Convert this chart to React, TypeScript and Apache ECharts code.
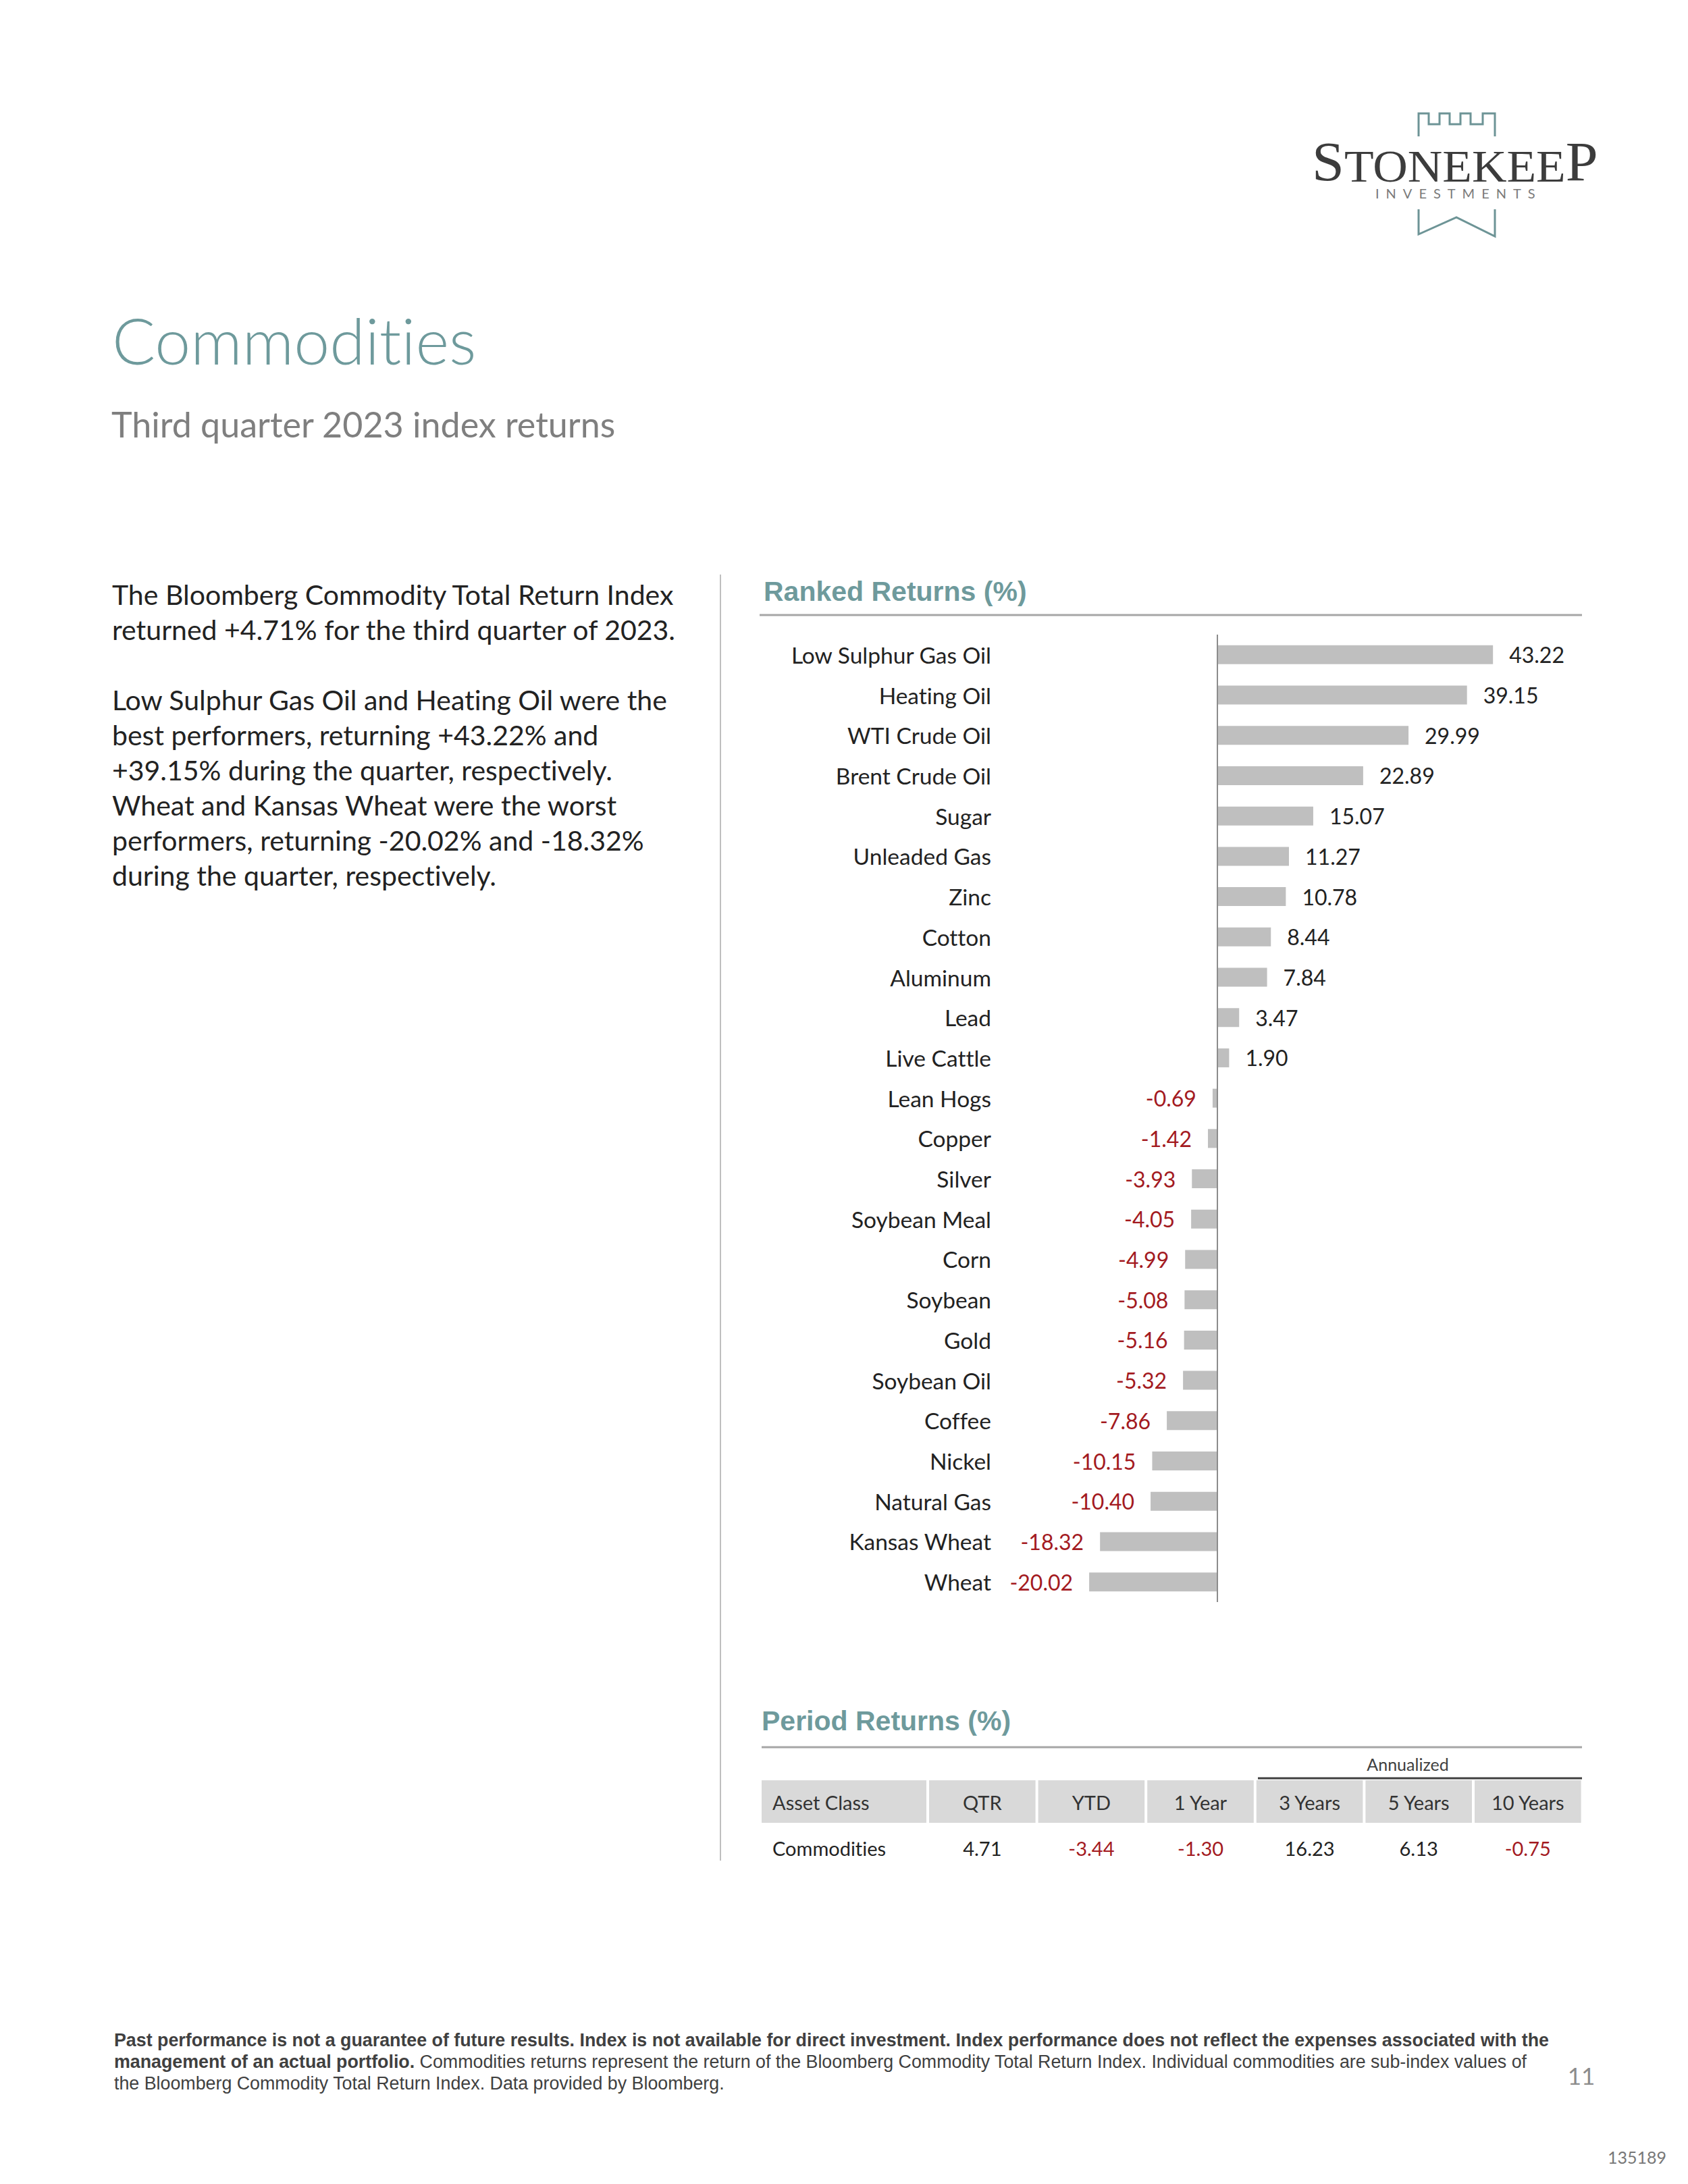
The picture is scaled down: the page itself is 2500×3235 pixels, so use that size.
import React, { useEffect, useRef } from 'react';
import * as echarts from 'echarts';

const categories = [
  'Low Sulphur Gas Oil', 'Heating Oil', 'WTI Crude Oil', 'Brent Crude Oil', 'Sugar',
  'Unleaded Gas', 'Zinc', 'Cotton', 'Aluminum', 'Lead', 'Live Cattle', 'Lean Hogs',
  'Copper', 'Silver', 'Soybean Meal', 'Corn', 'Soybean', 'Gold', 'Soybean Oil',
  'Coffee', 'Nickel', 'Natural Gas', 'Kansas Wheat', 'Wheat',
];
const returns = [
  43.22, 39.15, 29.99, 22.89, 15.07, 11.27, 10.78, 8.44, 7.84, 3.47, 1.9, -0.69,
  -1.42, -3.93, -4.05, -4.99, -5.08, -5.16, -5.32, -7.86, -10.15, -10.4, -18.32, -20.02,
];
const periodHeaders = ['Asset Class', 'QTR', 'YTD', '1 Year', '3 Years', '5 Years', '10 Years'];
const periodAsset = 'Commodities';
const periodValues = [4.71, -3.44, -1.3, 16.23, 6.13, -0.75];

const bodyLines = [
  'The Bloomberg Commodity Total Return Index',
  'returned +4.71% for the third quarter of 2023.',
  '',
  'Low Sulphur Gas Oil and Heating Oil were the',
  'best performers, returning +43.22% and',
  '+39.15% during the quarter, respectively.',
  'Wheat and Kansas Wheat were the worst',
  'performers, returning -20.02% and -18.32%',
  'during the quarter, respectively.',
];

const TEAL = '#6e9a9c';
const RED = '#a31a1f';
const DARK = '#222222';
const CAL = 'Lato, "Open Sans", sans-serif';
const ARIAL = '"Liberation Sans", Arial, sans-serif';

export default function App() {
  const ref = useRef<HTMLDivElement>(null);
  useEffect(() => {
    document.body.style.margin = '0';
    const el = ref.current!;
    const chart = echarts.init(el, null, { renderer: 'svg', width: 2500, height: 3235 });

    const g: any[] = [];
    const txt = (x: number, y: number, text: string, s: any, extra: any = {}) => {
      g.push({
        type: 'text', x, y, silent: true, ...extra,
        style: {
          text, fill: DARK, fontFamily: CAL, fontSize: 30,
          textAlign: 'left', align: 'left', textVerticalAlign: 'middle', verticalAlign: 'middle', ...s,
        },
      });
    };
    const line = (x1: number, y1: number, x2: number, y2: number, stroke: string, w: number) => {
      g.push({ type: 'line', silent: true, shape: { x1, y1, x2, y2 }, style: { stroke, lineWidth: w } });
    };

    // Logo
    g.push({
      type: 'polyline', silent: true,
      shape: { points: [[2101, 202], [2101, 168], [2116, 168], [2116, 184], [2132, 184], [2132, 168], [2147, 168], [2147, 184], [2163, 184], [2163, 168], [2178, 168], [2178, 184], [2196, 184], [2196, 168], [2214, 168], [2214, 202]] },
      style: { stroke: '#6d9496', lineWidth: 3, fill: 'none' },
    });
    g.push({
      type: 'polyline', silent: true,
      shape: { points: [[2101, 310], [2101, 347], [2157, 322], [2214, 350], [2214, 310]] },
      style: { stroke: '#6d9496', lineWidth: 3, fill: 'none' },
    });
    g.push({
      type: 'text', x: 1943, y: 280, scaleX: 1.05, silent: true,
      style: {
        text: '{a|S}{b|TONEKEE}{a|P}', textAlign: 'left', align: 'left', textVerticalAlign: 'bottom', verticalAlign: 'bottom',
        rich: {
          a: { fontFamily: '"Liberation Serif", serif', fontSize: 82, fill: '#3c3c3c', verticalAlign: 'bottom' },
          b: { fontFamily: '"Liberation Serif", serif', fontSize: 68, fill: '#3c3c3c', verticalAlign: 'bottom' },
        },
      },
    });
    txt(2037, 286, 'INVESTMENTS', { fontSize: 20, fill: '#7a7a7a' });

    // Titles
    txt(166, 503, 'Commodities', { fontSize: 95, fill: TEAL, fontWeight: 300 });
    txt(165, 628, 'Third quarter 2023 index returns', { fontSize: 52, fill: '#7f7f7f' });

    // Body text
    bodyLines.forEach((t, i) => {
      if (t) txt(166, 880 + i * 52.1, t, { fontSize: 41, fill: DARK });
    });

    // Divider
    line(1067, 851, 1067, 2756, '#bfbfbf', 2);

    // Ranked returns header
    txt(1131, 876, 'Ranked Returns (%)', { fontFamily: ARIAL, fontWeight: 'bold', fontSize: 41, fill: TEAL });
    line(1125, 911, 2343, 911, '#a6a6a6', 3);

    // Period returns header
    txt(1128, 2549, 'Period Returns (%)', { fontFamily: ARIAL, fontWeight: 'bold', fontSize: 41, fill: TEAL });
    line(1128, 2588, 2343, 2588, '#a6a6a6', 3);
    txt(2085, 2613, 'Annualized', { fontSize: 25, fill: '#404040', textAlign: 'center', align: 'center' });
    line(1863, 2634, 2343, 2634, '#404040', 3);

    // Table
    const cells: [number, number][] = [[1128, 244]];
    for (let i = 0; i < 6; i++) cells.push([1376 + i * 161.6, 157.6]);
    const hTop = 2637, hH = 63;
    cells.forEach(([x, w], i) => {
      g.push({ type: 'rect', silent: true, shape: { x, y: hTop, width: w, height: hH }, style: { fill: '#d9d9d9' } });
      if (i === 0) {
        txt(1144, hTop + hH / 2 + 1, periodHeaders[i], { fontSize: 29, fill: '#333' });
        txt(1144, 2737, periodAsset, { fontSize: 29, fill: DARK });
      } else {
        txt(x + w / 2, hTop + hH / 2 + 1, periodHeaders[i], { fontSize: 29, fill: '#333', textAlign: 'center', align: 'center' });
        const v = periodValues[i - 1];
        txt(x + w / 2, 2737, v.toFixed(2), { fontSize: 29, fill: v < 0 ? RED : DARK, textAlign: 'center', align: 'center' });
      }
    });

    // Footer
    const FS = 26.8;
    txt(169, 3022, 'Past performance is not a guarantee of future results. Index is not available for direct investment. Index performance does not reflect the expenses associated with the', { fontFamily: ARIAL, fontWeight: 'bold', fontSize: FS, fill: '#404040' });
    g.push({
      type: 'text', x: 169, y: 3054, silent: true,
      style: {
        text: '{b|management of an actual portfolio.}{n| Commodities returns represent the return of the Bloomberg Commodity Total Return Index. Individual commodities are sub-index values of}',
        textAlign: 'left', align: 'left', textVerticalAlign: 'middle', verticalAlign: 'middle',
        rich: {
          b: { fontFamily: ARIAL, fontWeight: 'bold', fontSize: FS, fill: '#404040' },
          n: { fontFamily: ARIAL, fontSize: FS, fill: '#404040' },
        },
      },
    });
    txt(169, 3086, 'the Bloomberg Commodity Total Return Index. Data provided by Bloomberg.', { fontFamily: ARIAL, fontSize: FS, fill: '#404040' });
    txt(2342, 3074, '11', { fontSize: 35, fill: '#8c8c8c', textAlign: 'center', align: 'center' });
    txt(2468, 3195, '135189', { fontSize: 25, fill: '#777777', textAlign: 'right', align: 'right' });

    const option: any = {
      animation: false,
      backgroundColor: '#ffffff',
      grid: { left: 1566, top: 940, width: 662, height: 1433 },
      xAxis: { type: 'value', min: -25, max: 45, show: false },
      yAxis: {
        type: 'category', data: categories, inverse: true,
        axisLine: { show: false }, axisTick: { show: false }, splitLine: { show: false },
        axisLabel: { margin: 98, fontFamily: CAL, fontSize: 33.5, color: DARK },
      },
      series: [{
        type: 'bar',
        barWidth: 28,
        itemStyle: { color: '#bfbfbf' },
        data: returns.map((v) => ({
          value: v,
          label: { position: v < 0 ? 'left' : 'right', color: v < 0 ? RED : DARK },
        })),
        label: {
          show: true, distance: 24, fontFamily: CAL, fontSize: 32,
          formatter: (p: any) => Number(p.value).toFixed(2),
        },
        markLine: {
          silent: true, symbol: ['none', 'none'], label: { show: false },
          lineStyle: { color: '#8c8c8c', type: 'solid', width: 2 },
          data: [{ xAxis: 0 }],
        },
      }],
      graphic: { elements: g },
    };
    chart.setOption(option);
    el.querySelectorAll('text').forEach((t) => {
      if (t.textContent === 'INVESTMENTS') t.setAttribute('letter-spacing', '10');
    });
    return () => chart.dispose();
  }, []);
  return <div ref={ref} style={{ width: 2500, height: 3235, background: '#fff', fontVariantLigatures: 'none' }} />;
}
